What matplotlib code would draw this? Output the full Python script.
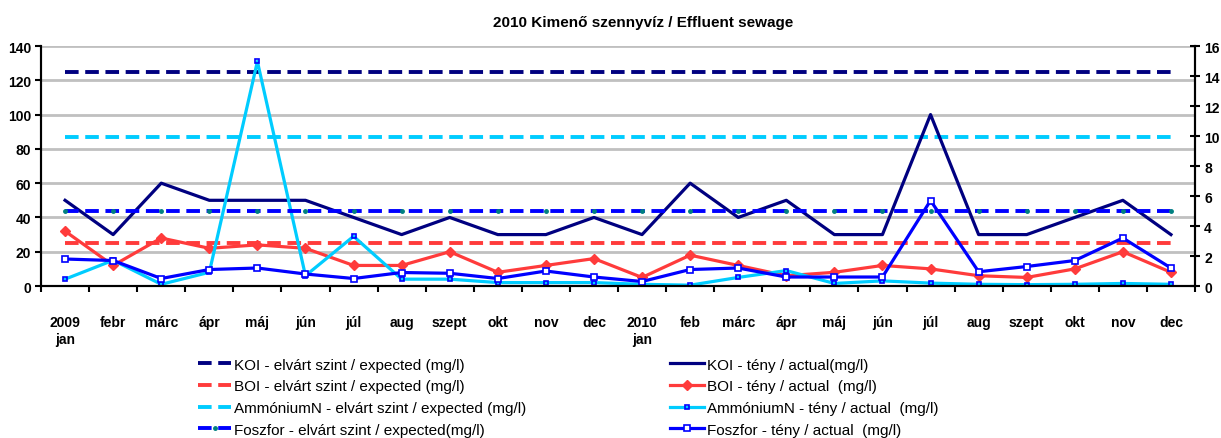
import matplotlib
matplotlib.use('Agg')
from matplotlib import pyplot as plt
import numpy as np

plt.rcParams['font.family'] = ['Liberation Sans', 'DejaVu Sans']

months = ['2009\njan', 'febr', 'márc', 'ápr', 'máj', 'jún', 'júl', 'aug', 'szept', 'okt', 'nov', 'dec',
          '2010\njan', 'feb', 'márc', 'ápr', 'máj', 'jún', 'júl', 'aug', 'szept', 'okt', 'nov', 'dec']

# expected levels (mg/l)
koi_expected = 125
boi_expected = 25
ammonium_expected = 87
foszfor_expected = 5   # right axis

# actual values (mg/l)
koi_actual = [50, 30, 60, 50, 50, 50, 40, 30, 40, 30, 30, 40,
              30, 60, 40, 50, 30, 30, 100, 30, 30, 40, 50, 30]
boi_actual = [32, 12, 28, 22, 24, 22, 12, 12, 20, 8, 12, 16,
              5, 18, 12, 6, 8, 12, 10, 6, 5, 10, 20, 8]
ammonium_actual = [4, 15, 1, 8, 131, 6, 29, 4, 4, 2, 2, 2,
                   1, 0.5, 5, 9, 1.5, 3, 1.7, 1, 0.8, 1, 1.5, 1]
foszfor_actual = [1.8, 1.7, 0.5, 1.1, 1.2, 0.8, 0.5, 0.9, 0.85, 0.5, 1.0, 0.6,
                  0.3, 1.1, 1.2, 0.6, 0.6, 0.6, 5.7, 0.95, 1.3, 1.7, 3.2, 1.2]

legend_labels = ['KOI - elvárt szint / expected (mg/l)',
                 'BOI - elvárt szint / expected (mg/l)',
                 'AmmóniumN - elvárt szint / expected (mg/l)',
                 'Foszfor - elvárt szint / expected(mg/l)',
                 'KOI - tény / actual(mg/l)',
                 'BOI - tény / actual  (mg/l)',
                 'AmmóniumN - tény / actual  (mg/l)',
                 'Foszfor - tény / actual  (mg/l)']

navy = '#000080'
red = '#FF3B3B'
cyan = '#00CCFF'
blue = '#0000FF'

x = np.arange(len(months))
n = len(months)

fig = plt.figure(figsize=(12.21, 4.39), dpi=100)
ax = fig.add_axes([0.0336, 0.3462, 0.9451, 0.5467])
ax2 = ax.twinx()

dash = (3.5, 1.7)
l1, = ax.plot(x, [koi_expected] * n, color=navy, lw=2.8, dashes=dash)
l2, = ax.plot(x, [boi_expected] * n, color=red, lw=2.8, dashes=dash)
l3, = ax.plot(x, [ammonium_expected] * n, color=cyan, lw=2.8, dashes=dash)
l5, = ax.plot(x, koi_actual, color=navy, lw=2.3)
l6, = ax.plot(x, boi_actual, color=red, lw=2.3, marker='D', ms=5)
l7, = ax.plot(x, ammonium_actual, color=cyan, lw=2.3, marker='s', ms=3.5,
              mfc='none', mec=blue, mew=1.2)
l4, = ax2.plot(x, [foszfor_expected] * n, color=blue, lw=2.8, dashes=dash,
               marker='o', ms=2.5, mfc='#008080', mec='#008080')
l8, = ax2.plot(x, foszfor_actual, color=blue, lw=2.3, marker='s', ms=5,
               mfc='white', mec=blue, mew=1.2)

ax.set_xlim(-0.5, n - 0.5)
ax.set_ylim(0, 140)
ax.set_yticks(range(0, 141, 20))
ax2.set_ylim(0, 16)
ax2.set_yticks(range(0, 17, 2))
ax.grid(axis='y', color='#C0C0C0', lw=2)
ax.set_axisbelow(True)

ax.set_xticks(x)
ax.set_xticklabels(months, fontweight='bold', fontsize=10, linespacing=1.3, va='top')
ax.set_xticks(np.arange(-0.5, n, 1), minor=True)
ax.tick_params(axis='x', which='major', length=0, pad=21)
ax.tick_params(axis='x', which='minor', length=4, width=1.5, direction='out')
ax.tick_params(axis='y', length=4, width=1.5, direction='out', labelsize=10, pad=3)
ax2.tick_params(axis='y', length=7, width=1.5, direction='inout', labelsize=10, pad=3)
for lab in ax.get_yticklabels() + ax2.get_yticklabels():
    lab.set_fontweight('bold')

for a in (ax, ax2):
    a.spines['top'].set_visible(False)
    a.spines['left'].set_linewidth(1.5)
    a.spines['right'].set_linewidth(1.5)
    a.spines['bottom'].set_linewidth(1.5)

fig.text(0.527, 0.948, '2010 Kimenő szennyvíz / Effluent sewage', ha='center', va='center',
         fontsize=11, fontweight='bold')

fig.legend([l1, l2, l3, l4, l5, l6, l7, l8], legend_labels, ncol=2, loc='upper left',
           bbox_to_anchor=(0.162, 0.183), frameon=False, fontsize=11,
           handlelength=2.2, handletextpad=0.2, columnspacing=9.4, labelspacing=0.5,
           borderpad=0, borderaxespad=0)

fig.savefig('out.png', dpi=100)
